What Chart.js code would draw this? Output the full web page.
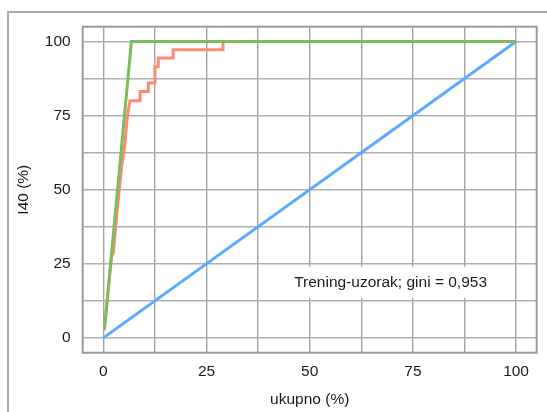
<!DOCTYPE html>
<html>
<head>
<meta charset="utf-8">
<title>Lorenz krivulja</title>
<script src="https://cdn.jsdelivr.net/npm/chart.js@4.4.0/dist/chart.umd.min.js"></script>
<style>
    html, body { margin: 0; padding: 0; background: #fff; }
    #frame {
        position: absolute; left: 7px; top: 11px; width: 540px; height: 401px;
        border-left: 2px solid #aaaaaa; border-top: 2px solid #aaaaaa;
    }
    #lorenz { position: absolute; left: 0; top: 0; }
</style>
</head>
<body>
<div id="frame"></div>
<canvas id="lorenz" width="547" height="412"></canvas>
<script>
// Values (percentages)
const diagonalX = [0, 100];
const diagonalY = [0, 100];

const idealX = [0.25, 6.8, 100];
const idealY = [2.6, 100, 100];

const modelX = [0.25, 2.0, 2.4, 3.6, 4.45, 5.25, 5.65, 6.05, 6.45, 8.9, 8.9, 10.9, 10.9, 12.5, 12.5, 13.3, 13.3, 16.9, 16.9, 29.0, 29.0, 100];
const modelY = [3.0, 27.4, 28.5, 46.5, 57.8, 65.7, 72.4, 76.9, 80.0, 80.0, 83.1, 83.1, 86.0, 86.0, 91.5, 91.5, 94.4, 94.4, 97.2, 97.2, 100, 100];

const gridValues = [0, 12.5, 25, 37.5, 50, 62.5, 75, 87.5, 100];
const tickLabels = [0, 25, 50, 75, 100];

const giniLabel = 'Trening-uzorak; gini = 0,953';

function toPoints(xs, ys) {
    return xs.map((x, i) => ({ x: x, y: ys[i] }));
}

Chart.defaults.font.family = '"Liberation Sans", Arial, sans-serif';
Chart.defaults.font.size = 15.5;
Chart.defaults.color = '#1a1a1a';

// Full rectangle around the plot area plus the gini note on white
const plotExtras = {
    id: 'plotExtras',
    beforeDatasetsDraw(chart) {
        const { ctx, chartArea, scales } = chart;
        ctx.save();
        ctx.strokeStyle = '#9a9a9a';
        ctx.lineWidth = 2;
        ctx.strokeRect(chartArea.left, chartArea.top, chartArea.right - chartArea.left, chartArea.bottom - chartArea.top);

        const cx = scales.x.getPixelForValue(69.6);
        const cy = scales.y.getPixelForValue(18.6);
        ctx.font = '15.5px "Liberation Sans", Arial, sans-serif';
        const w = ctx.measureText(giniLabel).width;
        ctx.fillStyle = '#ffffff';
        ctx.fillRect(cx - w / 2 - 6, cy - 16, w + 12, 31);
        ctx.fillStyle = '#1a1a1a';
        ctx.textAlign = 'center';
        ctx.textBaseline = 'middle';
        ctx.fillText(giniLabel, cx, cy);
        ctx.restore();
    }
};

function setGrid(scale) {
    scale.ticks = gridValues.map(v => ({ value: v }));
}

function labelFor(value) {
    return tickLabels.includes(value) ? String(value) : '';
}

new Chart(document.getElementById('lorenz'), {
    type: 'line',
    data: {
        datasets: [
            {
                label: 'idealno',
                data: toPoints(idealX, idealY),
                borderColor: '#7cbc5d',
                borderWidth: 3
            },
            {
                label: 'model',
                data: toPoints(modelX, modelY),
                borderColor: '#ff8a72',
                borderWidth: 3
            },
            {
                label: 'slučajno',
                data: toPoints(diagonalX, diagonalY),
                borderColor: '#5aaaff',
                borderWidth: 3
            }
        ]
    },
    options: {
        responsive: false,
        animation: false,
        elements: {
            point: { radius: 0 },
            line: { tension: 0, borderCapStyle: 'butt', borderJoinStyle: 'miter' }
        },
        layout: {
            padding: { left: 0, right: 10.3, top: 26.7, bottom: 0 }
        },
        plugins: {
            legend: { display: false },
            tooltip: { enabled: false }
        },
        scales: {
            x: {
                type: 'linear',
                min: -5,
                max: 105,
                afterBuildTicks: setGrid,
                afterFit(scale) { scale.height = 59.3; },
                grid: { color: '#a3a3a3', lineWidth: 1.4, drawTicks: false },
                border: { display: false },
                ticks: { padding: 10, maxRotation: 0, autoSkip: false, callback: labelFor },
                title: { display: true, text: 'ukupno (%)', padding: { top: 0, bottom: 3 } }
            },
            y: {
                type: 'linear',
                min: -5,
                max: 105,
                afterBuildTicks: setGrid,
                afterFit(scale) { scale.width = 82.7; },
                grid: { color: '#b0b0b0', lineWidth: 1.4, drawTicks: false },
                border: { display: false },
                ticks: { padding: 12, autoSkip: false, callback: labelFor },
                title: { display: true, text: 'I40 (%)', padding: { top: 14, bottom: 0 } }
            }
        }
    },
    plugins: [plotExtras]
});
</script>
</body>
</html>
